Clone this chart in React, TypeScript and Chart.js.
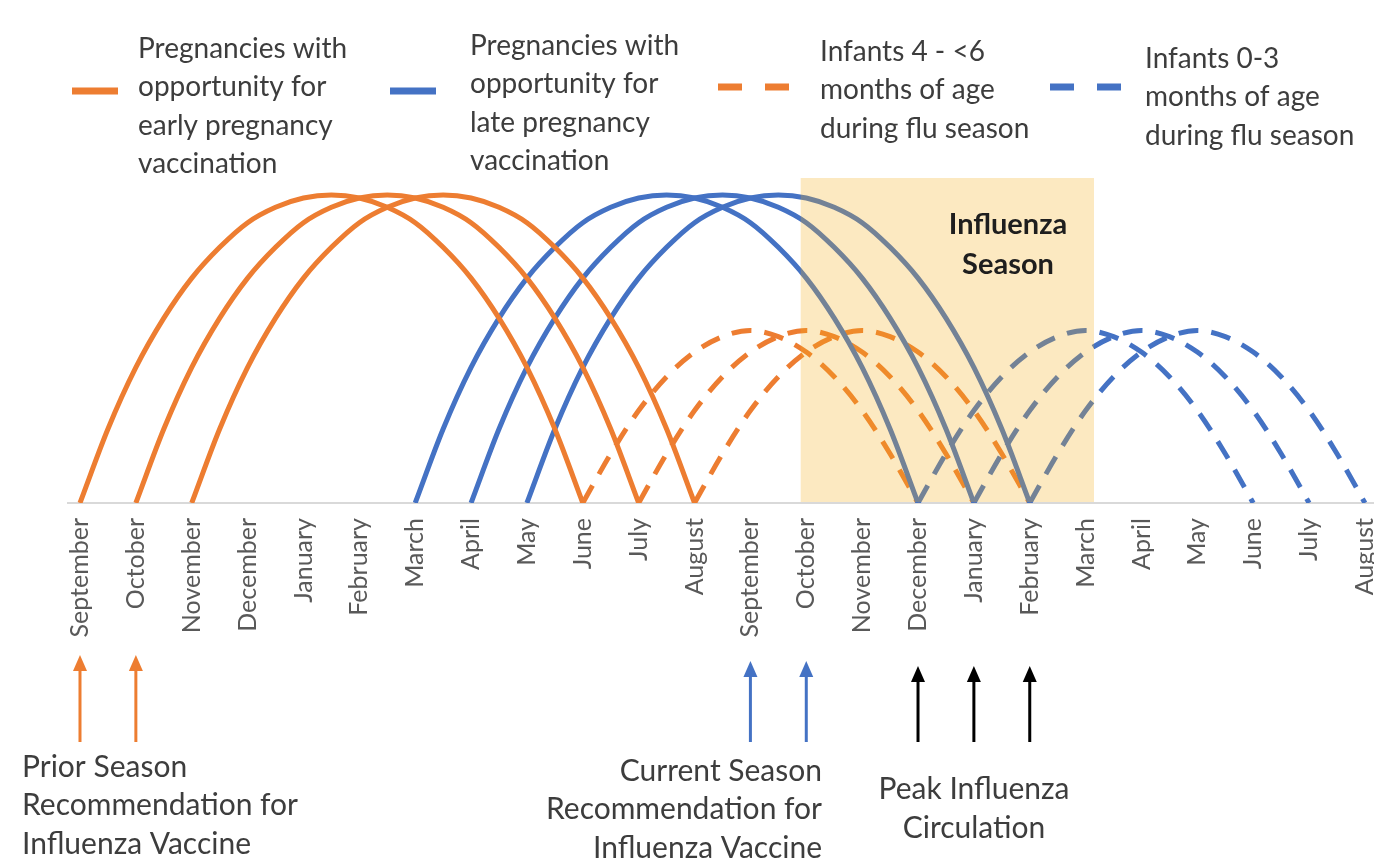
import { useEffect, useRef } from 'react';
import Chart from 'chart.js/auto';

// ---- data (month index on x, relative share on y) ----
const MONTHS = ['September','October','November','December','January','February','March','April','May','June','July','August','September','October','November','December','January','February','March','April','May','June','July','August'];

const earlyPregSep = [[0,0],[0.5,24],[1,44],[1.5,60],[2,73],[2.5,83],[3,91],[3.5,96],[4,99],[4.5,100],[5,99],[5.5,96],[6,91],[6.5,83],[7,73],[7.5,60],[8,44],[8.5,24],[9,0]];
const earlyPregOct = [[1,0],[1.5,24],[2,44],[2.5,60],[3,73],[3.5,83],[4,91],[4.5,96],[5,99],[5.5,100],[6,99],[6.5,96],[7,91],[7.5,83],[8,73],[8.5,60],[9,44],[9.5,24],[10,0]];
const earlyPregNov = [[2,0],[2.5,24],[3,44],[3.5,60],[4,73],[4.5,83],[5,91],[5.5,96],[6,99],[6.5,100],[7,99],[7.5,96],[8,91],[8.5,83],[9,73],[9.5,60],[10,44],[10.5,24],[11,0]];

const latePregMar = [[6,0],[6.5,24],[7,44],[7.5,60],[8,73],[8.5,83],[9,91],[9.5,96],[10,99],[10.5,100],[11,99],[11.5,96],[12,91],[12.5,83],[13,73],[13.5,60],[14,44],[14.5,24],[15,0]];
const latePregApr = [[7,0],[7.5,24],[8,44],[8.5,60],[9,73],[9.5,83],[10,91],[10.5,96],[11,99],[11.5,100],[12,99],[12.5,96],[13,91],[13.5,83],[14,73],[14.5,60],[15,44],[15.5,24],[16,0]];
const latePregMay = [[8,0],[8.5,24],[9,44],[9.5,60],[10,73],[10.5,83],[11,91],[11.5,96],[12,99],[12.5,100],[13,99],[13.5,96],[14,91],[14.5,83],[15,73],[15.5,60],[16,44],[16.5,24],[17,0]];

const infant46Jun = [[9,0],[9.5,16],[10,30],[10.5,41],[11,49],[11.5,54],[12,56],[12.5,54],[13,49],[13.5,41],[14,30],[14.5,16],[15,0]];
const infant46Jul = [[10,0],[10.5,16],[11,30],[11.5,41],[12,49],[12.5,54],[13,56],[13.5,54],[14,49],[14.5,41],[15,30],[15.5,16],[16,0]];
const infant46Aug = [[11,0],[11.5,16],[12,30],[12.5,41],[13,49],[13.5,54],[14,56],[14.5,54],[15,49],[15.5,41],[16,30],[16.5,16],[17,0]];

const infant03Dec = [[15,0],[15.5,16],[16,30],[16.5,41],[17,49],[17.5,54],[18,56],[18.5,54],[19,49],[19.5,41],[20,30],[20.5,16],[21,0]];
const infant03Jan = [[16,0],[16.5,16],[17,30],[17.5,41],[18,49],[18.5,54],[19,56],[19.5,54],[20,49],[20.5,41],[21,30],[21.5,16],[22,0]];
const infant03Feb = [[17,0],[17.5,16],[18,30],[18.5,41],[19,49],[19.5,54],[20,56],[20.5,54],[21,49],[21.5,41],[22,30],[22.5,16],[23,0]];

const FLU_SEASON = [12.9, 18.15];
const PRIOR_REC_MONTHS = [0, 1];
const CURRENT_REC_MONTHS = [12, 13];
const PEAK_FLU_MONTHS = [15, 16, 17];

const LEGEND_ITEMS = [
  { lines: ['Pregnancies with', 'opportunity for', 'early pregnancy', 'vaccination'], color: 'orange', dashed: false },
  { lines: ['Pregnancies with', 'opportunity for', 'late pregnancy', 'vaccination'], color: 'blue', dashed: false },
  { lines: ['Infants 4 - <6', 'months of age', 'during flu season'], color: 'orange', dashed: true },
  { lines: ['Infants 0-3', 'months of age', 'during flu season'], color: 'blue', dashed: true },
];

const ORANGE = '#ED7D31';
const BLUE = '#4472C4';
const FONT = 'Lato, "Open Sans", sans-serif';
const TEXT = '#3d3d3d';

const toPts = (a: number[][]) => a.map(([x, y]) => ({ x, y }));

function solid(label: string, d: number[][], color: string) {
  return { label, data: toPts(d), borderColor: color, backgroundColor: color, borderWidth: 5, pointRadius: 0, cubicInterpolationMode: 'monotone', fill: false };
}
function dashed(label: string, d: number[][], color: string) {
  return { label, data: toPts(d), borderColor: color, backgroundColor: color, borderWidth: 5, borderDash: [20, 13], pointRadius: 0, cubicInterpolationMode: 'monotone', fill: false };
}

function arrow(ctx: CanvasRenderingContext2D, x: number, tip: number, base: number, color: string) {
  ctx.save();
  ctx.strokeStyle = color;
  ctx.fillStyle = color;
  ctx.lineWidth = 3;
  ctx.beginPath();
  ctx.moveTo(x, base);
  ctx.lineTo(x, tip + 12);
  ctx.stroke();
  ctx.beginPath();
  ctx.moveTo(x, tip);
  ctx.lineTo(x - 7, tip + 16);
  ctx.lineTo(x + 7, tip + 16);
  ctx.closePath();
  ctx.fill();
  ctx.restore();
}

const overlayPlugin = {
  id: 'overlay',
  afterDatasetsDraw(chart: any) {
    const { ctx, chartArea, scales } = chart;
    const x = scales.x;
    const x0 = x.getPixelForValue(FLU_SEASON[0]);
    const x1 = x.getPixelForValue(FLU_SEASON[1]);
    ctx.save();
    ctx.fillStyle = 'rgba(245,172,25,0.27)';
    ctx.fillRect(x0, chartArea.top, x1 - x0, chartArea.bottom - chartArea.top - 1);
    ctx.fillStyle = '#1e1e1e';
    ctx.font = `bold 29px ${FONT}`;
    ctx.textAlign = 'center';
    ctx.textBaseline = 'middle';
    ctx.fillText('Influenza', 1008, 225);
    ctx.fillText('Season', 1008, 265);
    ctx.restore();
  },
  afterDraw(chart: any) {
    const { ctx, scales } = chart;
    const x = scales.x;
    ctx.save();
    // legend
    const swatchX = [72, 390, 718, 1050];
    const swatchY = [91, 91, 87, 87];
    const textX = [138, 470, 820, 1145];
    const textY0 = [49, 46, 52, 59];
    LEGEND_ITEMS.forEach((it, i) => {
      const c = it.color === 'orange' ? ORANGE : BLUE;
      ctx.strokeStyle = c;
      ctx.lineWidth = 7;
      ctx.lineCap = 'butt';
      ctx.beginPath();
      if (it.dashed) {
        ctx.moveTo(swatchX[i], swatchY[i]);
        ctx.lineTo(swatchX[i] + 24, swatchY[i]);
        ctx.moveTo(swatchX[i] + 47, swatchY[i]);
        ctx.lineTo(swatchX[i] + 71, swatchY[i]);
      } else {
        ctx.moveTo(swatchX[i], swatchY[i]);
        ctx.lineTo(swatchX[i] + 46, swatchY[i]);
      }
      ctx.stroke();
      ctx.fillStyle = TEXT;
      ctx.font = `28px ${FONT}`;
      ctx.textAlign = 'left';
      ctx.textBaseline = 'middle';
      it.lines.forEach((ln, j) => ctx.fillText(ln, textX[i], textY0[i] + j * 38.3));
    });
    // arrows
    PRIOR_REC_MONTHS.forEach((m) => arrow(ctx, x.getPixelForValue(m), 655, 742, ORANGE));
    CURRENT_REC_MONTHS.forEach((m) => arrow(ctx, x.getPixelForValue(m), 661, 742, BLUE));
    PEAK_FLU_MONTHS.forEach((m) => arrow(ctx, x.getPixelForValue(m), 666, 742, '#000000'));
    // annotations
    ctx.fillStyle = TEXT;
    ctx.font = `30px ${FONT}`;
    ctx.textBaseline = 'middle';
    ctx.textAlign = 'left';
    ['Prior Season', 'Recommendation for', 'Influenza Vaccine'].forEach((t, j) => ctx.fillText(t, 22, 767 + j * 38.5));
    ctx.textAlign = 'right';
    ['Current Season', 'Recommendation for', 'Influenza Vaccine'].forEach((t, j) => ctx.fillText(t, 822, 771 + j * 38.5));
    ctx.textAlign = 'center';
    ['Peak Influenza', 'Circulation'].forEach((t, j) => ctx.fillText(t, 974, 789 + j * 39));
    ctx.restore();
  },
};

export default function App() {
  const ref = useRef<HTMLCanvasElement>(null);
  useEffect(() => {
    document.body.style.margin = '0';
    const chart = new Chart(ref.current as HTMLCanvasElement, {
      type: 'line',
      data: {
        datasets: [
          solid('Early pregnancy (Sep)', earlyPregSep, ORANGE),
          solid('Early pregnancy (Oct)', earlyPregOct, ORANGE),
          solid('Early pregnancy (Nov)', earlyPregNov, ORANGE),
          solid('Late pregnancy (Mar)', latePregMar, BLUE),
          solid('Late pregnancy (Apr)', latePregApr, BLUE),
          solid('Late pregnancy (May)', latePregMay, BLUE),
          dashed('Infants 4-<6 (Jun)', infant46Jun, ORANGE),
          dashed('Infants 4-<6 (Jul)', infant46Jul, ORANGE),
          dashed('Infants 4-<6 (Aug)', infant46Aug, ORANGE),
          dashed('Infants 0-3 (Dec)', infant03Dec, BLUE),
          dashed('Infants 0-3 (Jan)', infant03Jan, BLUE),
          dashed('Infants 0-3 (Feb)', infant03Feb, BLUE),
        ] as any,
      },
      options: {
        responsive: false,
        animation: false,
        devicePixelRatio: 1,
        layout: { padding: { left: 67.7, right: 9.9, top: 178, bottom: 221 } },
        plugins: { legend: { display: false }, tooltip: { enabled: false } },
        scales: {
          x: {
            type: 'linear',
            min: -0.22,
            max: 23.45,
            afterBuildTicks: (s: any) => { s.ticks = MONTHS.map((_, i) => ({ value: i })); },
            afterFit: (s: any) => { s.height = 140; s.paddingLeft = 0; s.paddingRight = 0; },
            ticks: {
              autoSkip: false,
              minRotation: 90,
              maxRotation: 90,
              padding: 15,
              color: '#595959',
              font: { family: FONT, size: 25 },
              callback: (_v: any, i: number) => MONTHS[i],
            },
            grid: { display: false, drawTicks: false },
            border: { display: true, color: '#d9d9d9', width: 2 },
          },
          y: { display: false, min: 0, max: 105.5 },
        },
      },
      plugins: [overlayPlugin],
    } as any);
    return () => chart.destroy();
  }, []);
  return (
    <div style={{ width: 1374, height: 864, overflow: 'hidden', position: 'relative', background: '#fff' }}>
      <canvas ref={ref} width={1400} height={864} style={{ display: 'block' }} />
    </div>
  );
}
